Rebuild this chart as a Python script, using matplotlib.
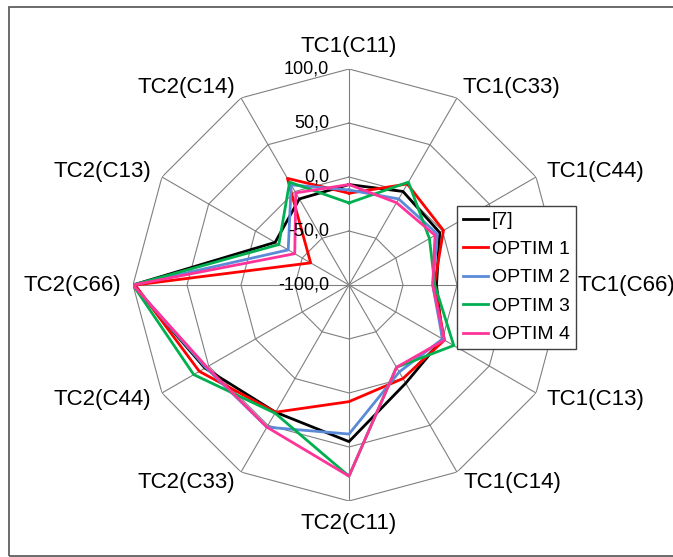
import matplotlib.pyplot as plt
import numpy as np
from matplotlib.patches import Rectangle

plt.rcParams['font.family'] = ['Liberation Sans', 'DejaVu Sans']

categories = ['TC1(C11)', 'TC1(C33)', 'TC1(C44)', 'TC1(C66)', 'TC1(C13)', 'TC1(C14)',
              'TC2(C11)', 'TC2(C33)', 'TC2(C44)', 'TC2(C66)', 'TC2(C13)', 'TC2(C14)']

ref7 = [-7, 0, -3, -19, 0, 5, 45, 36, 54, 100, -21, -8]
optim1 = [-15, 8, 1, -21, 2, 0, 8, 36, 60, 98, -59, 14]
optim2 = [-12, -8, -5.5, -22.5, 0, -7, 38, 52, 53, 100, -35, 7]
optim3 = [-24, 10, -14, -20.5, 12, -12, 77, 37, 66, 100, -25, 10]
optim4 = [-7, -12, -8, -22.5, 2, -12, 77, 52, 52, 100, -42, -1.5]

series_names = ['[7]', 'OPTIM 1', 'OPTIM 2', 'OPTIM 3', 'OPTIM 4']
series_colors = ['#000000', '#FF0000', '#5B8BD8', '#00B050', '#FF3399']
ticks = [-100, -50, 0, 50, 100]
tick_labels = ['-100,0', '-50,0', '0,0', '50,0', '100,0']

W, H = 673, 557
fig = plt.figure(figsize=(W / 100, H / 100), dpi=100)

# outer chart border (right edge runs past the image)
fig.patches.append(Rectangle((9 / W, 1 / H), 1.2, 549 / H, transform=fig.transFigure,
                             fill=False, edgecolor='#606060', lw=1.3, clip_on=False))

cx, cy, rad = 349, 285, 216
ax = fig.add_axes([(cx - rad) / W, (H - cy - rad) / H, 2 * rad / W, 2 * rad / H],
                  projection='polar')
ax.set_theta_zero_location('N')
ax.set_theta_direction(-1)
ax.set_ylim(-100, 100)

n = len(categories)
angles = np.linspace(0, 2 * np.pi, n, endpoint=False)
closed = np.append(angles, angles[0])

# spokes from the theta grid, polygon rings drawn by hand
ax.set_xticks(angles)
ax.set_xticklabels([])
ax.set_yticks([])
ax.xaxis.grid(True, color='#808080', lw=0.8)
ax.spines['polar'].set_visible(False)
for t in ticks[1:]:
    ax.plot(closed, [t] * (n + 1), color='#808080', lw=0.8, zorder=1)

for name, vals, col in zip(series_names, [ref7, optim1, optim2, optim3, optim4], series_colors):
    ax.plot(closed, vals + vals[:1], color=col, lw=2.0, label=name, zorder=3)

for t, lab in zip(ticks, tick_labels):
    ax.annotate(lab, xy=(0, t), xytext=(-20, 0), textcoords='offset pixels',
                ha='right', va='center', fontsize=13, zorder=4)

for a, lab in zip(angles, categories):
    s, c = np.sin(a), np.cos(a)
    if abs(s) < 0.01:
        ha = 'center'
        va = 'bottom' if c > 0 else 'top'
    else:
        ha = 'left' if s > 0 else 'right'
        va = 'center'
    ax.annotate(lab, xy=(a, 100), xytext=(12 * s, 12 * c), textcoords='offset pixels',
                ha=ha, va=va, fontsize=16, annotation_clip=False)

leg = fig.legend(loc='upper left', bbox_to_anchor=(457 / W, 1 - 206 / H), fontsize=14,
                 frameon=True, fancybox=False, framealpha=1, edgecolor='#404040',
                 handlelength=1.3, handletextpad=0.2, labelspacing=0.56,
                 borderpad=0.3, borderaxespad=0)
leg.get_frame().set_linewidth(1.0)

fig.savefig('out.png', dpi=100)
